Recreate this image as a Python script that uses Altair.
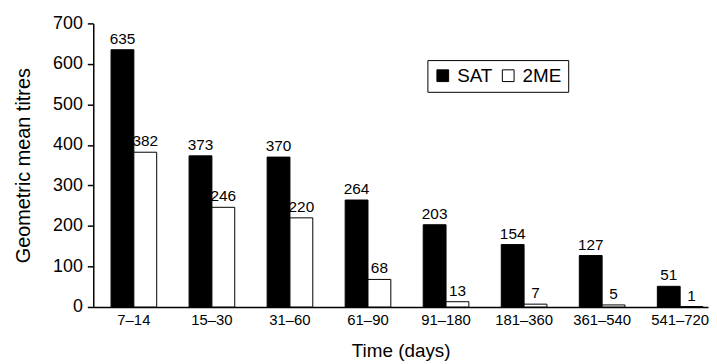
import altair as alt
import pandas as pd

periods = ["7–14", "15–30", "31–60", "61–90", "91–180", "181–360", "361–540", "541–720"]
sat = [635, 373, 370, 264, 203, 154, 127, 51]
me2 = [382, 246, 220, 68, 13, 7, 5, 1]
series = ["SAT", "2ME"]

rows = []
for p, a, b in zip(periods, sat, me2):
    rows.append({"period": p, "test": "SAT", "value": a})
    rows.append({"period": p, "test": "2ME", "value": b})
df = pd.DataFrame(rows)

FONT = "Liberation Sans"

x = alt.X("period:N", sort=periods, title="Time (days)",
          scale=alt.Scale(paddingInner=0.415, paddingOuter=0.146, align=0.78),
          axis=alt.Axis(labelAngle=0, ticks=False, labelFontSize=15, titleFontSize=19,
                        labelPadding=6, titlePadding=14, domainColor="black",
                        labelColor="black", titleColor="black", titleFontWeight="normal",
                        labelFont=FONT, titleFont=FONT, domainWidth=1.5))
xo = alt.XOffset("test:N", sort=series, scale=alt.Scale(paddingInner=0, paddingOuter=0))
y = alt.Y("value:Q", title="Geometric mean titres",
          scale=alt.Scale(domain=[0, 700]),
          axis=alt.Axis(values=list(range(0, 701, 100)), grid=False, tickSize=6,
                        labelFontSize=18, titleFontSize=20, domainColor="black",
                        tickColor="black", labelColor="black", titleColor="black",
                        titleFontWeight="normal", labelFont=FONT, titleFont=FONT,
                        labelPadding=5, titlePadding=19, domainWidth=1.5, tickWidth=1.5))

bars = alt.Chart(df).mark_bar(stroke="black", strokeWidth=1).encode(
    x=x, xOffset=xo, y=y,
    color=alt.Color("test:N", sort=series,
                    scale=alt.Scale(domain=series, range=["black", "white"]),
                    legend=alt.Legend(title=None, orient="none", direction="horizontal",
                                      legendX=337, legendY=37, symbolType="square",
                                      symbolSize=140, symbolStrokeColor="black",
                                      symbolStrokeWidth=1, labelFontSize=19,
                                      labelFont=FONT, labelColor="black",
                                      strokeColor="black", padding=6, columnPadding=6,
                                      labelOffset=5)),
)

labels = alt.Chart(df).mark_text(dy=-3, baseline="bottom", fontSize=15.5, font=FONT,
                                 color="black").encode(
    x=x, xOffset=xo, y=y, text=alt.Text("value:Q")
)

chart = (bars + labels).properties(
    width=620, height=286,
    padding={"left": 5, "top": 5, "right": 0, "bottom": 5},
).configure_view(stroke=None)

chart.save("out.html", embed_options={"renderer": "svg", "actions": False})
